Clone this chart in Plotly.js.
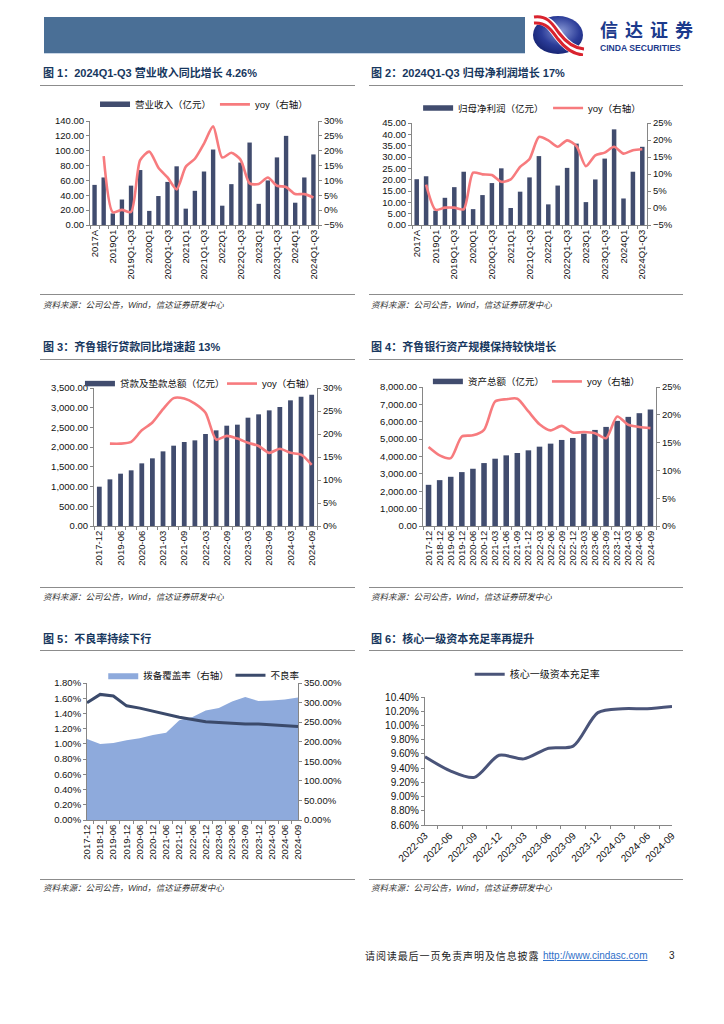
<!DOCTYPE html>
<html><head><meta charset="utf-8">
<script src="https://cdn.plot.ly/plotly-3.0.1.min.js"></script>
<style>
body{margin:0;width:724px;height:1024px;background:#fff;position:relative;overflow:hidden;font-family:"Liberation Sans",Arial,"Noto Sans CJK SC",sans-serif;}
.abs{position:absolute;}
.ttl{position:absolute;font-family:"Liberation Sans","Noto Sans CJK SC",sans-serif;font-weight:bold;font-size:11px;line-height:14px;color:#17375e;white-space:nowrap;}
.hl{position:absolute;height:0;border-top:1px solid #8c8c8c;}
.src{position:absolute;font-family:"Liberation Sans","Noto Sans CJK SC",sans-serif;font-size:8.5px;line-height:11px;font-style:italic;color:#333;white-space:nowrap;}
.chart{position:absolute;}
</style></head><body>

<div class="abs" style="left:44px;top:17px;width:481px;height:36px;background:#4a6f96;border-bottom:1px solid #c9d6e6;"></div>
<svg class="abs" style="left:531px;top:14px" width="56" height="42" viewBox="0 0 56 42">
 <defs><radialGradient id="lg" cx="55%" cy="40%" r="70%"><stop offset="0" stop-color="#8a9ad6"/><stop offset="0.55" stop-color="#2b3c98"/><stop offset="1" stop-color="#101c66"/></radialGradient></defs>
 <ellipse cx="27" cy="21" rx="25" ry="19" fill="url(#lg)"/>
 <path d="M3 6 C17 4, 22 14, 28 22 S42 37, 53 38" stroke="#fff" stroke-width="10" fill="none"/>
 <path d="M3 3 C17 1, 22 11, 28 19 S42 34, 53 35" stroke="#d9232e" stroke-width="3" fill="none"/>
 <path d="M3 9 C16 8, 21 17, 27 25 S41 40, 52 41" stroke="#d9232e" stroke-width="3" fill="none"/>
</svg>
<div class="abs" style="left:600px;top:20px;font-family:'Noto Sans CJK SC',sans-serif;font-weight:bold;font-size:18px;line-height:18px;color:#1c3a8c;letter-spacing:7px;white-space:nowrap;">信达证券</div>
<div class="abs" style="left:600px;top:44px;font-family:'Liberation Sans',Arial,sans-serif;font-weight:bold;font-size:8.6px;line-height:9px;color:#1c3a8c;white-space:nowrap;">CINDA SECURITIES</div>

<div class="ttl" style="left:43px;top:66px;">图 1：2024Q1-Q3 营业收入同比增长 4.26%</div>
<div class="hl" style="left:40px;top:85px;width:315px;"></div>
<div class="ttl" style="left:371px;top:66px;">图 2：2024Q1-Q3 归母净利润增长 17%</div>
<div class="hl" style="left:369px;top:85px;width:314px;"></div>
<div id="c1" class="chart" style="left:40px;top:92px;"></div>
<div id="c2" class="chart" style="left:360px;top:92px;"></div>
<div class="hl" style="left:40px;top:294px;width:315px;"></div>
<div class="hl" style="left:369px;top:294px;width:314px;"></div>
<div class="src" style="left:43px;top:300px;">资料来源：公司公告，Wind，信达证券研发中心</div>
<div class="src" style="left:371px;top:300px;">资料来源：公司公告，Wind，信达证券研发中心</div>

<div class="ttl" style="left:43px;top:340px;">图 3：齐鲁银行贷款同比增速超 13%</div>
<div class="hl" style="left:40px;top:359px;width:315px;"></div>
<div class="ttl" style="left:371px;top:340px;">图 4：齐鲁银行资产规模保持较快增长</div>
<div class="hl" style="left:369px;top:359px;width:314px;"></div>
<div id="c3" class="chart" style="left:40px;top:360px;"></div>
<div id="c4" class="chart" style="left:360px;top:360px;"></div>
<div class="hl" style="left:40px;top:587px;width:315px;"></div>
<div class="hl" style="left:369px;top:587px;width:314px;"></div>
<div class="src" style="left:43px;top:592px;">资料来源：公司公告，Wind，信达证券研发中心</div>
<div class="src" style="left:371px;top:592px;">资料来源：公司公告，Wind，信达证券研发中心</div>

<div class="ttl" style="left:43px;top:632px;">图 5：不良率持续下行</div>
<div class="hl" style="left:40px;top:650px;width:315px;"></div>
<div class="ttl" style="left:371px;top:632px;">图 6：核心一级资本充足率再提升</div>
<div class="hl" style="left:369px;top:650px;width:314px;"></div>
<div id="c5" class="chart" style="left:40px;top:650px;"></div>
<div id="c6" class="chart" style="left:360px;top:650px;"></div>
<div class="hl" style="left:40px;top:879px;width:315px;"></div>
<div class="hl" style="left:369px;top:879px;width:314px;"></div>
<div class="src" style="left:43px;top:883px;">资料来源：公司公告，Wind，信达证券研发中心</div>
<div class="src" style="left:371px;top:883px;">资料来源：公司公告，Wind，信达证券研发中心</div>

<div class="abs" style="left:365px;top:949px;font-family:'Noto Sans CJK SC',sans-serif;font-size:10px;line-height:14px;color:#222;letter-spacing:0.9px;white-space:nowrap;">请阅读最后一页免责声明及信息披露</div>
<div class="abs" style="left:543px;top:949px;font-family:'Liberation Sans',Arial,sans-serif;font-size:10px;line-height:14px;color:#2f6fc9;text-decoration:underline;white-space:nowrap;">http://www.cindasc.com</div>
<div class="abs" style="left:669px;top:949px;font-family:'Liberation Sans',Arial,sans-serif;font-size:10px;line-height:14px;color:#222;">3</div>

<script>
// ---------- data ----------
const periods = ['2017A','2018A','2019Q1','2019H1','2019Q1-Q3','2019A','2020Q1','2020H1','2020Q1-Q3','2020A','2021Q1','2021H1','2021Q1-Q3','2021A','2022Q1','2022H1','2022Q1-Q3','2022A','2023Q1','2023H1','2023Q1-Q3','2023A','2024Q1','2024H1','2024Q1-Q3'];
const revenue = [54,64,15.6,34.3,53,74,19,39,58,79,22,46,72,101.6,26,55,84,111,28.5,60,91,120,30,64,95];
const revenueYoy = [null,18.2,-0.7,0.1,-0.6,16.8,19.7,14.3,11,7,14.6,17.3,22.4,28.2,17.7,19.3,17,9,8.8,11,8.2,7.8,5.4,5.4,4.26];
const profit = [20.2,21.5,6.3,12,16.7,23.5,7,13.2,18.5,25,7.5,14.7,21,30.4,9.1,17.4,25.2,35.9,10.1,20.1,29.3,42.2,11.7,23.5,34.5];
const profitYoy = [null,6.9,-0.5,0.1,0.1,-0.4,10.4,9.9,9.7,7.7,8.4,12.1,14.4,20.9,19.9,18,19.9,18.2,12.3,15.5,16.3,18,16,17,17.3];

const loanDates = ['2017-12','2018-12','2019-06','2019-12','2020-06','2020-12','2021-03','2021-06','2021-09','2021-12','2022-03','2022-06','2022-09','2022-12','2023-03','2023-06','2023-09','2023-12','2024-03','2024-06','2024-09'];
const loans = [997,1183,1327,1412,1589,1716,1893,2037,2130,2172,2333,2426,2544,2570,2747,2832,2933,3018,3187,3280,3330];
const loanYoy = [null,17.9,17.9,18.3,20.8,22.5,25.4,27.8,27.7,26.6,24.6,18.8,19.6,19,18.1,17.4,15.9,16.8,15.9,15.5,13.3];

const assetDates = ['2017-12','2018-12','2019-06','2019-12','2020-06','2020-12','2021-03','2021-06','2021-09','2021-12','2022-03','2022-06','2022-09','2022-12','2023-03','2023-06','2023-09','2023-12','2024-03','2024-06','2024-09'];
const assets = [2370,2640,2832,3102,3295,3622,3873,4066,4200,4355,4566,4740,4952,5067,5318,5530,5703,6050,6281,6493,6705];
const assetYoy = [14.2,12.7,12.2,16.1,16.3,17.3,22.4,22.8,22.9,20.6,18.3,17.2,18,16.8,16.9,16.7,15.8,19.7,18.2,17.8,17.6];

const qualityDates = ['2017-12','2018-12','2019-06','2019-12','2020-06','2020-12','2021-06','2021-12','2022-06','2022-12','2023-03','2023-06','2023-09','2023-12','2024-03','2024-06','2024-09'];
const coverage = [207,194,197,204,209,217,223,255,263,280,286,303,314,304,305,308,313];
const npl = [1.54,1.65,1.63,1.50,1.47,1.43,1.385,1.35,1.32,1.29,1.28,1.27,1.26,1.26,1.25,1.245,1.23];

const capDates = ['2022-03','2022-06','2022-09','2022-12','2023-03','2023-06','2023-09','2023-12','2024-03','2024-06','2024-09'];
const cet1 = [9.56,9.365,9.27,9.58,9.53,9.68,9.71,10.18,10.235,10.235,10.265];

// ---------- style ----------
const FONT = '"Liberation Sans", Arial, "Noto Sans CJK SC", sans-serif';
const NAVY = '#414c6e';
const PINK = '#f77b7e';
const AX = '#868686';
const cfg = {staticPlot:true, displayModeBar:false};
const alt = arr => arr.map((c,i)=> i%2===0 ? c : '');
function axis(extra){ return Object.assign({showline:true,linecolor:AX,linewidth:1,ticks:'outside',ticklen:3,tickcolor:AX,showgrid:false,zeroline:false,fixedrange:true},extra); }
function base(w,h,m){ m.autoexpand=false; return {width:w,height:h,margin:m,paper_bgcolor:'rgba(0,0,0,0)',plot_bgcolor:'rgba(0,0,0,0)',font:{family:FONT,size:9.5,color:'#111'},bargap:0.52,showlegend:true}; }
function leg(x,y){ return {orientation:'h',x:x,xanchor:'left',y:y,yanchor:'middle',bgcolor:'rgba(0,0,0,0)',font:{size:9.5},itemwidth:30}; }
// legend key for a bar series, drawn as a wide bar-style swatch like the original (no visible mark)
function barKey(name,cats){ return {type:'scatter',mode:'lines',x:[cats[0]],y:[null],name:name,line:{color:NAVY,width:5.5},legend:'legend',hoverinfo:'skip'}; }

// chart 1
Plotly.newPlot('c1',[
  {type:'bar',x:periods,y:revenue,name:'营业收入（亿元）',marker:{color:NAVY},showlegend:false},
  barKey('营业收入（亿元）',periods),
  {type:'scatter',mode:'lines',x:periods,y:revenueYoy,name:'yoy（右轴）',yaxis:'y2',legend:'legend2',line:{color:PINK,width:2.6,shape:'spline',smoothing:0.7}}
], Object.assign(base(325,200,{l:50,r:47,t:29,b:67}),{
  xaxis:axis({type:'category',tickmode:'array',tickvals:periods,ticktext:alt(periods),tickangle:-90,tickson:'boundaries'}),
  yaxis:axis({range:[0,140],dtick:20,tickformat:'.2f'}),
  yaxis2:axis({overlaying:'y',side:'right',range:[-5,30],dtick:5,ticksuffix:'%'}),
  legend:leg(0.022,1.16), legend2:leg(0.548,1.16)
}), cfg);

// chart 2
Plotly.newPlot('c2',[
  {type:'bar',x:periods,y:profit,name:'归母净利润（亿元）',marker:{color:NAVY},showlegend:false},
  barKey('归母净利润（亿元）',periods),
  {type:'scatter',mode:'lines',x:periods,y:profitYoy,name:'yoy（右轴）',yaxis:'y2',legend:'legend2',line:{color:PINK,width:2.6,shape:'spline',smoothing:0.7}}
], Object.assign(base(330,200,{l:52,r:43,t:30.7,b:67}),{
  xaxis:axis({type:'category',tickmode:'array',tickvals:periods,ticktext:alt(periods),tickangle:-90,tickson:'boundaries'}),
  yaxis:axis({range:[0,45],dtick:5,tickformat:'.2f'}),
  yaxis2:axis({overlaying:'y',side:'right',range:[-5,25],dtick:5,ticksuffix:'%'}),
  legend:leg(0.026,1.147), legend2:leg(0.579,1.147)
}), cfg);

// chart 3
Plotly.newPlot('c3',[
  {type:'bar',x:loanDates,y:loans,name:'贷款及垫款总额（亿元）',marker:{color:NAVY},showlegend:false},
  barKey('贷款及垫款总额（亿元）',loanDates),
  {type:'scatter',mode:'lines',x:loanDates,y:loanYoy,name:'yoy（右轴）',yaxis:'y2',legend:'legend2',line:{color:PINK,width:2.6,shape:'spline',smoothing:0.7}}
], Object.assign(base(325,230,{l:54,r:48,t:27.7,b:64.3}),{
  bargap:0.55,
  xaxis:axis({type:'category',tickmode:'array',tickvals:loanDates,ticktext:alt(loanDates),tickangle:-90,tickson:'boundaries'}),
  yaxis:axis({range:[0,3500],dtick:500,tickformat:',.2f'}),
  yaxis2:axis({overlaying:'y',side:'right',range:[0,30],dtick:5,ticksuffix:'%'}),
  legend:leg(-0.063,1.032), legend2:leg(0.574,1.032)
}), cfg);

// chart 4
Plotly.newPlot('c4',[
  {type:'bar',x:assetDates,y:assets,name:'资产总额（亿元）',marker:{color:NAVY},showlegend:false},
  barKey('资产总额（亿元）',assetDates),
  {type:'scatter',mode:'lines',x:assetDates,y:assetYoy,name:'yoy（右轴）',yaxis:'y2',legend:'legend2',line:{color:PINK,width:2.6,shape:'spline',smoothing:0.7}}
], Object.assign(base(330,230,{l:63,r:34.3,t:27.3,b:64.3}),{
  bargap:0.5,
  xaxis:axis({type:'category',tickangle:-90,tickson:'boundaries'}),
  yaxis:axis({range:[0,8000],dtick:1000,tickformat:',.2f'}),
  yaxis2:axis({overlaying:'y',side:'right',range:[0,25],dtick:5,ticksuffix:'%'}),
  legend:leg(0.021,1.04), legend2:leg(0.532,1.04)
}), cfg);

// chart 5 (primary axis = right coverage, overlay = left NPL so the line draws above the area)
Plotly.newPlot('c5',[
  {type:'scatter',mode:'lines',x:qualityDates,y:coverage,name:'拨备覆盖率（右轴）',fill:'tozeroy',fillcolor:'#8eaadc',line:{color:'#8eaadc',width:0},legend:'legend'},
  {type:'scatter',mode:'lines',x:qualityDates,y:npl,name:'不良率',yaxis:'y2',legend:'legend2',line:{color:'#3b4a6b',width:3}}
], Object.assign(base(325,240,{l:46.7,r:67.3,t:32.7,b:70}),{
  xaxis:axis({type:'category',tickangle:-90,tickson:'boundaries'}),
  yaxis:axis({side:'right',range:[0,350],dtick:50,tickformat:'.2f',ticksuffix:'%'}),
  yaxis2:axis({overlaying:'y',side:'left',range:[0,1.8],dtick:0.2,tickformat:'.2f',ticksuffix:'%'}),
  legend:leg(0.077,1.056), legend2:leg(0.68,1.056)
}), cfg);

// chart 6
Plotly.newPlot('c6',[
  {type:'scatter',mode:'lines',x:capDates,y:cet1,name:'核心一级资本充足率',line:{color:'#4a5479',width:3,shape:'spline',smoothing:0.8}}
], Object.assign(base(330,240,{l:65.3,r:17.7,t:46.7,b:64.7}),{
  xaxis:axis({type:'category',tickangle:-45,tickson:'boundaries',tickfont:{size:10}}),
  yaxis:axis({range:[8.6,10.4],dtick:0.2,tickformat:'.2f',ticksuffix:'%',tickfont:{size:10}}),
  legend:Object.assign(leg(0.181,1.177),{font:{size:10}})
}), cfg);
</script>
</body></html>
